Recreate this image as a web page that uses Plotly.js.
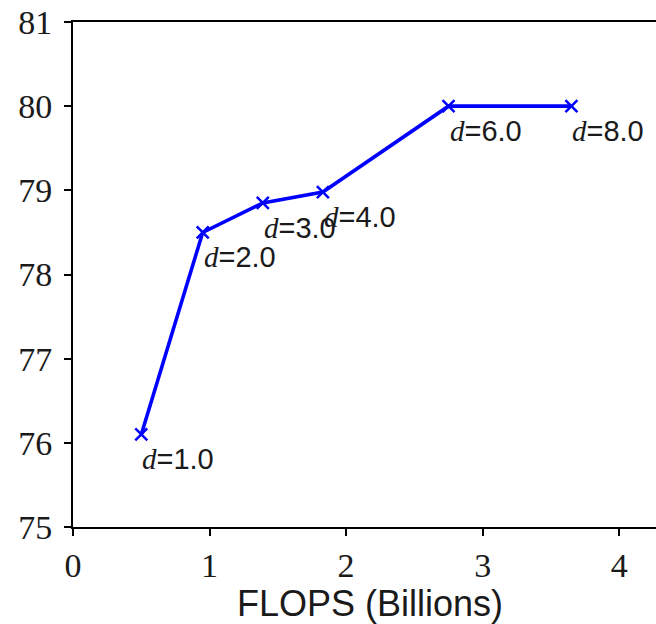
<!DOCTYPE html>
<html>
<head>
<meta charset="utf-8">
<script src="https://cdn.plot.ly/plotly-3.0.1.min.js"></script>
<style>
html, body { margin: 0; padding: 0; overflow: hidden; background: #fff; }
#chart { width: 680px; height: 624px; }
</style>
</head>
<body>
<div id="chart"></div>
<script>
const flops = [0.5, 0.95, 1.39, 1.83, 2.75, 3.65];
const accuracy = [76.1, 78.5, 78.85, 78.98, 80.0, 80.0];
const depthLabels = ["1.0", "2.0", "3.0", "4.0", "6.0", "8.0"];
const xTicks = [0, 1, 2, 3, 4];
const yTicks = [75, 76, 77, 78, 79, 80, 81];

const serif = "Liberation Serif, DejaVu Serif, serif";
const sans = "Liberation Sans, Arial, sans-serif";

const trace = {
  x: flops,
  y: accuracy,
  type: "scatter",
  mode: "lines+markers",
  line: { color: "#0000ff", width: 3.6 },
  marker: { symbol: "x-thin", size: 12, color: "#0000ff", line: { color: "#0000ff", width: 2.5 } },
  hoverinfo: "none"
};

const annotations = flops.map((x, i) => ({
  x: x,
  y: accuracy[i],
  xref: "x",
  yref: "y",
  text: '<span style="font-family:Liberation Serif;font-style:italic">d</span>=' + depthLabels[i],
  showarrow: false,
  xanchor: "left",
  yanchor: "middle",
  xshift: -1,
  yshift: -25,
  font: { family: sans, size: 29, color: "#1a1a1a" }
}));

const axisCommon = {
  showline: true,
  linecolor: "#000",
  linewidth: 2,
  mirror: true,
  ticks: "outside",
  ticklen: 7,
  tickwidth: 2,
  tickcolor: "#000",
  showgrid: false,
  zeroline: false,
  tickfont: { family: serif, size: 34, color: "#1a1a1a" }
};

const layout = {
  width: 680,
  height: 624,
  margin: { l: 73, r: 13, t: 22, b: 97 },
  paper_bgcolor: "#fff",
  plot_bgcolor: "#fff",
  showlegend: false,
  xaxis: Object.assign({}, axisCommon, {
    range: [0, 4.35],
    tickvals: xTicks,
    ticktext: xTicks.map(String),
    title: { text: "FLOPS (Billions)", font: { family: sans, size: 36, color: "#1a1a1a" }, standoff: 8 }
  }),
  yaxis: Object.assign({}, axisCommon, {
    range: [75, 81],
    tickvals: yTicks,
    ticktext: yTicks.map(String),
    ticklabelstandoff: 5
  }),
  annotations: annotations
};

Plotly.newPlot("chart", [trace], layout, { displayModeBar: false, staticPlot: true });
</script>
</body>
</html>
